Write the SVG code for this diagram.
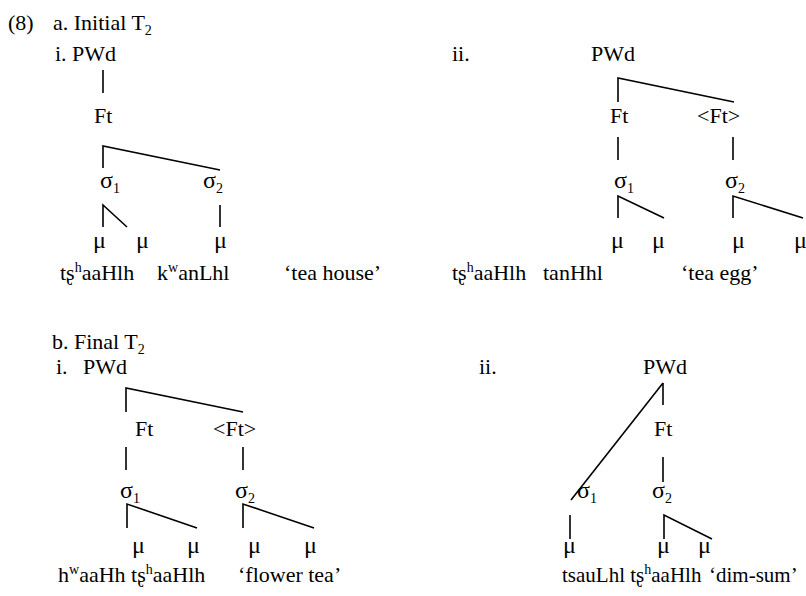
<svg xmlns="http://www.w3.org/2000/svg" width="806" height="596" viewBox="0 0 806 596">
<style>
text{font-family:"Liberation Serif","Times New Roman","DejaVu Serif",serif;font-size:22px;fill:#000}
.sm{font-size:14px}
.g{font-size:24px}
.c line,.c polyline{stroke:#000;stroke-width:1.6;fill:none}
</style>
<rect width="806" height="596" fill="#fff"/>
<g id="labels">
<text x="8" y="30">(8)</text>
<text x="53" y="30">a. Initial T<tspan class="sm" dy="5">2</tspan></text>
<text x="55" y="61">i. PWd</text>
<text x="452" y="61">ii.</text>
<text x="52" y="349">b. Final T<tspan class="sm" dy="5">2</tspan></text>
<text x="56" y="374">i.</text>
<text x="479" y="374">ii.</text>
</g>
<g class="c" id="connectors">
<line x1="103" y1="70" x2="103" y2="93"/>
<polyline points="103,168 103,146 220,170"/>
<polyline points="103,227 103,205 127,227"/>
<line x1="220" y1="205" x2="220" y2="227"/>
<polyline points="618,102 618,78 734,102"/>
<line x1="618" y1="137" x2="618" y2="160"/>
<line x1="733" y1="137" x2="733" y2="160"/>
<polyline points="618,218 618,196 664,218"/>
<polyline points="733,218 733,196 803,218"/>
<polyline points="126,412 126,388 243,412"/>
<line x1="126" y1="447" x2="126" y2="470"/>
<line x1="243" y1="447" x2="243" y2="470"/>
<polyline points="127,528 127,504 197,528"/>
<polyline points="243,528 243,504 314,528"/>
<line x1="663" y1="383" x2="663" y2="405"/>
<line x1="663" y1="383" x2="571" y2="500"/>
<line x1="663" y1="457" x2="663" y2="482"/>
<line x1="570" y1="515" x2="570" y2="539"/>
<polyline points="664,539 664,515 712,539"/>
</g>
<g id="a-i">
<g id="ai-ft"><text x="94" y="123">Ft</text></g>
<g id="ai-s1"><text class="g" x="100" y="188">σ<tspan class="sm" dy="5">1</tspan></text></g>
<g id="ai-s2"><text class="g" x="203" y="188">σ<tspan class="sm" dy="5">2</tspan></text></g>
<g id="ai-mu"><text class="g" x="93" y="248">μ</text><text class="g" x="136" y="248">μ</text><text class="g" x="214" y="248">μ</text></g>
<g id="ai-gloss">
<text x="60" y="280">tʂ<tspan class="sm" dy="-8">h</tspan><tspan dy="8">aaHlh</tspan></text>
<text x="157" y="280">k<tspan class="sm" dy="-8">w</tspan><tspan dy="8">anLhl</tspan></text>
<text x="284" y="280">‘tea house’</text>
</g>
</g>
<g id="a-ii">
<g id="aii-pwd"><text x="591" y="61">PWd</text></g>
<g id="aii-ft1"><text x="610" y="123">Ft</text></g>
<g id="aii-ft2"><text x="697" y="123">&lt;Ft&gt;</text></g>
<g id="aii-s1"><text class="g" x="614" y="188">σ<tspan class="sm" dy="5">1</tspan></text></g>
<g id="aii-s2"><text class="g" x="725" y="188">σ<tspan class="sm" dy="5">2</tspan></text></g>
<g id="aii-mu"><text class="g" x="611" y="248">μ</text><text class="g" x="652" y="248">μ</text><text class="g" x="732" y="248">μ</text><text class="g" x="794" y="248">μ</text></g>
<g id="aii-gloss">
<text x="452" y="280">tʂ<tspan class="sm" dy="-8">h</tspan><tspan dy="8">aaHlh</tspan></text>
<text x="543" y="280">tanHhl</text>
<text x="681" y="280">‘tea egg’</text>
</g>
</g>
<g id="b-i">
<g id="bi-pwd"><text x="83" y="374">PWd</text></g>
<g id="bi-ft1"><text x="135" y="436">Ft</text></g>
<g id="bi-ft2"><text x="213" y="436">&lt;Ft&gt;</text></g>
<g id="bi-s1"><text class="g" x="120" y="498">σ<tspan class="sm" dy="5">1</tspan></text></g>
<g id="bi-s2"><text class="g" x="235" y="498">σ<tspan class="sm" dy="5">2</tspan></text></g>
<g id="bi-mu"><text class="g" x="132" y="553">μ</text><text class="g" x="187" y="553">μ</text><text class="g" x="248" y="553">μ</text><text class="g" x="304" y="553">μ</text></g>
<g id="bi-gloss">
<text x="58" y="582">h<tspan class="sm" dy="-8">w</tspan><tspan dy="8">aaHh tʂ</tspan><tspan class="sm" dy="-8">h</tspan><tspan dy="8">aaHlh</tspan></text>
<text x="238" y="582">‘flower tea’</text>
</g>
</g>
<g id="b-ii">
<g id="bii-pwd"><text x="643" y="374">PWd</text></g>
<g id="bii-ft"><text x="654" y="436">Ft</text></g>
<g id="bii-s1"><text class="g" x="577" y="498">σ<tspan class="sm" dy="5">1</tspan></text></g>
<g id="bii-s2"><text class="g" x="652" y="498">σ<tspan class="sm" dy="5">2</tspan></text></g>
<g id="bii-mu"><text class="g" x="563" y="553">μ</text><text class="g" x="657" y="553">μ</text><text class="g" x="698" y="553">μ</text></g>
<g id="bii-gloss">
<text x="562" y="582" style="font-size:21px">tsauLhl tʂ<tspan class="sm" dy="-8">h</tspan><tspan dy="8">aaHlh</tspan></text>
<text x="709" y="582" style="font-size:21px">‘dim-sum’</text>
</g>
</g>
</svg>
